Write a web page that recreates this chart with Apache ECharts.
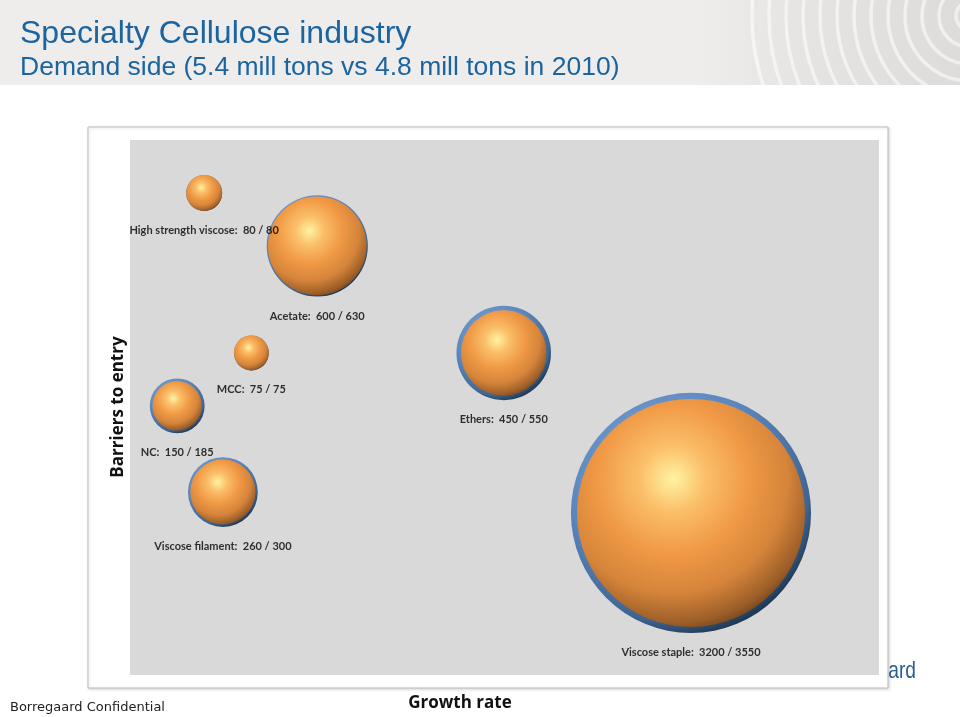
<!DOCTYPE html>
<html>
<head>
<meta charset="utf-8">
<style>html,body{margin:0;padding:0;background:#fff;}#c{width:960px;height:717px;}</style>
<script src="https://cdn.jsdelivr.net/npm/echarts@6/dist/echarts.min.js"></script>
</head>
<body>
<div id="c"></div>
<script>
// Data
var names = ['High strength viscose', 'Acetate', 'MCC', 'NC', 'Viscose filament', 'Ethers', 'Viscose staple'];
var growth = [9.9, 25.0, 16.2, 6.3, 12.4, 49.9, 74.9];      // x position (growth rate, relative)
var barriers = [90.1, 80.2, 60.2, 50.3, 34.2, 60.2, 30.3];  // y position (barriers to entry, relative)
var demand2010 = [80, 600, 75, 150, 260, 450, 3200];
var demandNow = [80, 630, 75, 185, 300, 550, 3550];

var chart = echarts.init(document.getElementById('c'), null, {renderer: 'canvas'});

function sizeOf(v) { return 4.03 * Math.sqrt(v); }

var outerData = names.map(function (n, i) { return [growth[i], barriers[i], demandNow[i], n, demand2010[i]]; });
var innerData = names.map(function (n, i) { return [growth[i], barriers[i], demand2010[i], n, demandNow[i]]; });

var arcs = [];
for (var r = 14; r <= 230; r += 17) {
  arcs.push({type: 'circle', z: 1, silent: true, shape: {cx: 970, cy: 16, r: r},
    style: {fill: null, stroke: 'rgba(255,255,255,0.55)', lineWidth: 3.5}});
}

var orangeGrad = {type: 'radial', x: 0.42, y: 0.35, r: 0.72, colorStops: [
  {offset: 0, color: '#fff3a2'},
  {offset: 0.2, color: '#fbbf6a'},
  {offset: 0.45, color: '#f19a46'},
  {offset: 0.7, color: '#d5843a'},
  {offset: 0.88, color: '#9c5e28'},
  {offset: 1, color: '#553212'}
]};
var blueGrad = {type: 'radial', x: 0.4, y: 0.35, r: 0.7, colorStops: [
  {offset: 0, color: '#8fb2de'},
  {offset: 0.6, color: '#5a86bd'},
  {offset: 0.85, color: '#3f6591'},
  {offset: 1, color: '#152a40'}
]};

var option = {
  backgroundColor: '#ffffff',
  animation: false,
  graphic: [
    {type: 'rect', z: 0, silent: true, shape: {x: 0, y: 0, width: 960, height: 85}, style: {fill: '#eeedeb'}},
    {type: 'rect', z: 0, silent: true, shape: {x: 700, y: 0, width: 260, height: 85},
      style: {fill: {type: 'linear', x: 0, y: 0, x2: 1, y2: 0, colorStops: [{offset: 0, color: '#eeedeb'}, {offset: 0.4, color: '#e5e4e2'}, {offset: 1, color: '#dddcda'}]}}},
  ].concat(arcs).concat([
    {type: 'rect', z: 2, silent: true, shape: {x: 0, y: 85, width: 960, height: 632}, style: {fill: '#ffffff'}},
    {type: 'text', z: 3, x: 20, y: 34, style: {text: 'Specialty Cellulose industry', fill: '#1b64a0', font: '32px "Liberation Sans", Arial, sans-serif', verticalAlign: 'middle'}},
    {type: 'text', z: 3, x: 20, y: 68, style: {text: 'Demand side (5.4 mill tons vs 4.8 mill tons in 2010)', fill: '#1b64a0', font: '26.5px "Liberation Sans", Arial, sans-serif', verticalAlign: 'middle'}},
    {type: 'text', z: 3, x: 916, y: 671, scaleX: 0.8, originX: 0, originY: 0,
      style: {text: 'Borregaard', fill: '#2a5f94', font: '24px "Liberation Sans", sans-serif', align: 'right', verticalAlign: 'middle'}},
    {type: 'rect', z: 4, silent: true, shape: {x: 88, y: 127, width: 800, height: 561},
      style: {fill: '#ffffff', stroke: '#bdbdbd', lineWidth: 1, shadowBlur: 3, shadowColor: 'rgba(0,0,0,0.15)', shadowOffsetX: 1, shadowOffsetY: 1}},
    {type: 'text', z: 5, x: 118, y: 407, rotation: Math.PI / 2,
      style: {text: 'Barriers to entry', fill: '#111', font: 'bold 17px "Open Sans", sans-serif', align: 'center', verticalAlign: 'middle'}},
    {type: 'text', z: 5, x: 460, y: 703, style: {text: 'Growth rate', fill: '#111', font: 'bold 17px "Open Sans", sans-serif', align: 'center', verticalAlign: 'middle'}},
    {type: 'text', z: 5, x: 10, y: 708, style: {text: 'Borregaard Confidential', fill: '#222', font: '13px "DejaVu Sans", sans-serif', verticalAlign: 'middle'}}
  ]),
  grid: {left: 130, top: 140, width: 749, height: 535, show: true, backgroundColor: '#d9d9d9', borderWidth: 0, z: 6},
  xAxis: {type: 'value', min: 0, max: 100, show: false},
  yAxis: {type: 'value', min: 0, max: 100, show: false},
  series: [
    {
      type: 'scatter', z: 7, data: outerData, silent: true,
      symbolSize: function (d) { return sizeOf(d[2]); },
      itemStyle: {color: blueGrad, opacity: 1},
      label: {show: false},
      emphasis: {disabled: true}
    },
    {
      type: 'scatter', z: 8, data: innerData, silent: true,
      symbolSize: function (d) { return sizeOf(d[2]); },
      itemStyle: {color: orangeGrad, opacity: 1},
      label: {show: false},
      emphasis: {disabled: true}
    },
    {
      type: 'scatter', z: 9, data: outerData, silent: true,
      symbolSize: function (d) { return sizeOf(d[2]); },
      itemStyle: {color: 'transparent'},
      label: {show: true, position: 'bottom', distance: 14,
        formatter: function (p) { return p.data[3] + ':  ' + p.data[4] + ' / ' + p.data[2]; },
        color: '#000', fontSize: 11, fontWeight: 'bold', fontFamily: 'Lato, "Open Sans", sans-serif'},
      labelLayout: {hideOverlap: false},
      emphasis: {disabled: true}
    }
  ]
};
chart.setOption(option);
</script>
</body>
</html>
